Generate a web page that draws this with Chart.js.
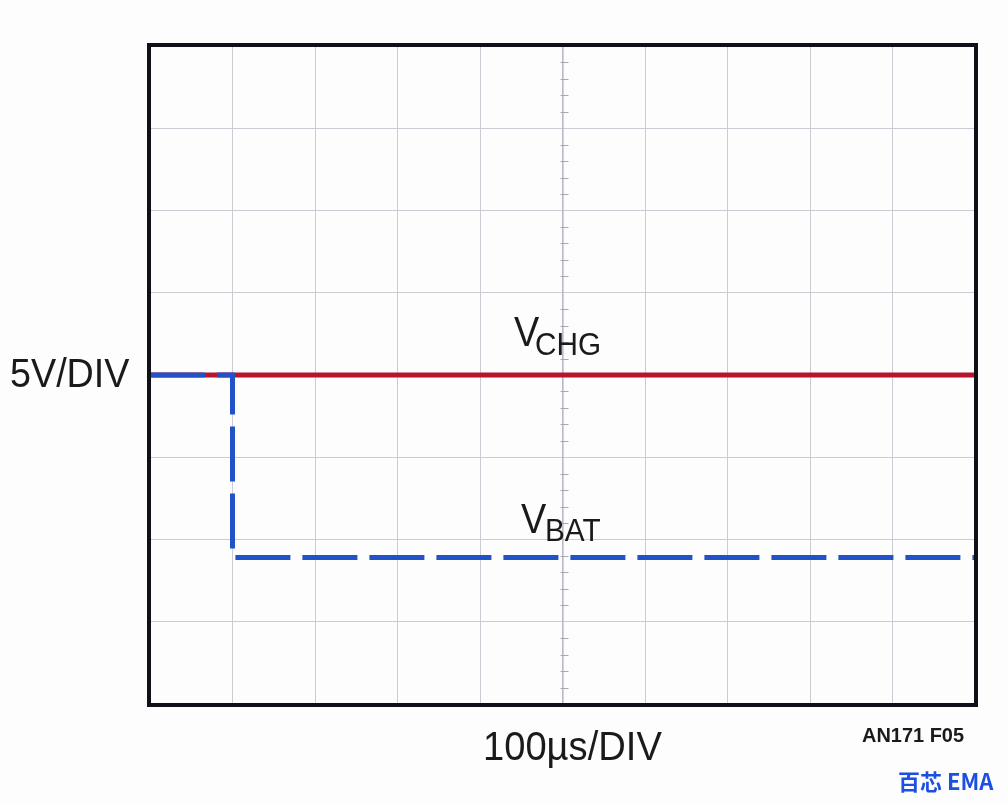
<!DOCTYPE html>
<html>
<head>
<meta charset="utf-8">
<script src="https://cdn.jsdelivr.net/npm/chart.js@4.4.1/dist/chart.umd.min.js"></script>
<style>
html,body{margin:0;padding:0;background:#fdfdfe;}
canvas{display:block;}
</style>
</head>
<body>
<canvas id="c" width="1008" height="804"></canvas>
<script>
// Time axis in divisions (100µs/DIV), voltage axis in divisions (5V/DIV)
const xDivTicks = [0,1,2,3,4,5,6,7,8,9,10];
const yDivTicks = [0,1,2,3,4,5,6,7,8];
const vchgTime = [0, 10];
const vchgLevel = [4, 4];
const vbatTime = [0, 1, 1, 10];
const vbatLevel = [4, 4, 1.78, 1.78];
const seriesNames = ['VCHG', 'VBAT'];

const toPts = (xs, ys) => xs.map((x, i) => ({x: x, y: ys[i]}));

const overlay = {
  id: 'overlay',
  beforeDatasetsDraw(chart) {
    const {ctx, chartArea: a, scales} = chart;
    // minor ticks on centre vertical graticule line
    const xc = scales.x.getPixelForValue(5);
    ctx.save();
    ctx.strokeStyle = '#a9a9b8';
    ctx.lineWidth = 1;
    ctx.beginPath();
    ctx.moveTo(xc + 0.5, a.top); ctx.lineTo(xc + 0.5, a.bottom);
    ctx.stroke();
    ctx.strokeStyle = '#a6a6b4';
    for (let v = 0; v <= 8.0001; v += 0.2) {
      if (Math.abs(v - Math.round(v)) < 1e-6) continue;
      const y = Math.round(scales.y.getPixelForValue(v)) + 0.5;
      ctx.beginPath();
      ctx.moveTo(xc - 2, y); ctx.lineTo(xc + 6, y);
      ctx.stroke();
    }
    ctx.restore();
  },
  afterDraw(chart) {
    const {ctx, chartArea: a} = chart;
    ctx.save();
    // frame
    ctx.strokeStyle = '#101018';
    ctx.lineWidth = 4;
    ctx.strokeRect(a.left - 1, a.top - 1, a.right - a.left + 2, a.bottom - a.top + 2);

    const txt = (s, x, y, font, sx, color, align) => {
      ctx.save();
      ctx.font = font;
      ctx.fillStyle = color || '#1a1a1a';
      ctx.textBaseline = 'alphabetic';
      ctx.translate(x, y);
      ctx.scale(sx, 1);
      ctx.textAlign = align || 'left';
      ctx.fillText(s, 0, 0);
      ctx.restore();
    };
    // axis labels
    txt('5V/DIV', 10, 387, '41px "Liberation Sans"', 0.92);
    txt('100µs/DIV', 483, 760, '41px "Liberation Sans"', 0.93);
    // series labels
    txt('V', 514, 346, '42px "Liberation Sans"', 0.9);
    txt('CHG', 535, 355, '32px "Liberation Sans"', 0.93);
    txt('V', 521, 533, '42px "Liberation Sans"', 0.9);
    txt('BAT', 545, 541, '32px "Liberation Sans"', 0.93);
    // figure id
    txt('AN171 F05', 862, 742, 'bold 21px "Liberation Sans"', 0.95);
    // watermark
    txt('百芯 EMA', 898, 790, 'bold 22px "Noto Sans CJK SC"', 1.0, '#1d4fe0');
    ctx.restore();
  }
};

new Chart(document.getElementById('c'), {
  type: 'scatter',
  data: {
    datasets: [
      {
        label: seriesNames[1],
        data: toPts(vbatTime, vbatLevel),
        showLine: true,
        borderColor: '#2152c8',
        borderWidth: 5,
        borderDash: [55, 12],
        pointRadius: 0,
        tension: 0,
        order: 0
      },
      {
        label: seriesNames[0],
        data: toPts(vchgTime, vchgLevel),
        showLine: true,
        borderColor: '#b8142c',
        borderWidth: 5,
        pointRadius: 0,
        tension: 0,
        order: 1
      }
    ]
  },
  options: {
    responsive: false,
    animation: false,
    devicePixelRatio: 1,
    layout: { padding: { left: 150, right: 33, top: 46, bottom: 100 } },
    plugins: { legend: { display: false }, tooltip: { enabled: false } },
    scales: {
      x: {
        type: 'linear', min: 0, max: 10,
        afterBuildTicks: s => { s.ticks = xDivTicks.map(v => ({value: v})); },
        ticks: { display: false },
        grid: { color: '#cbcbd4', lineWidth: 1, drawTicks: false },
        border: { display: false }
      },
      y: {
        type: 'linear', min: 0, max: 8,
        afterBuildTicks: s => { s.ticks = yDivTicks.map(v => ({value: v})); },
        ticks: { display: false },
        grid: { color: '#cbcbd4', lineWidth: 1, drawTicks: false },
        border: { display: false }
      }
    }
  },
  plugins: [overlay]
});
</script>
</body>
</html>
